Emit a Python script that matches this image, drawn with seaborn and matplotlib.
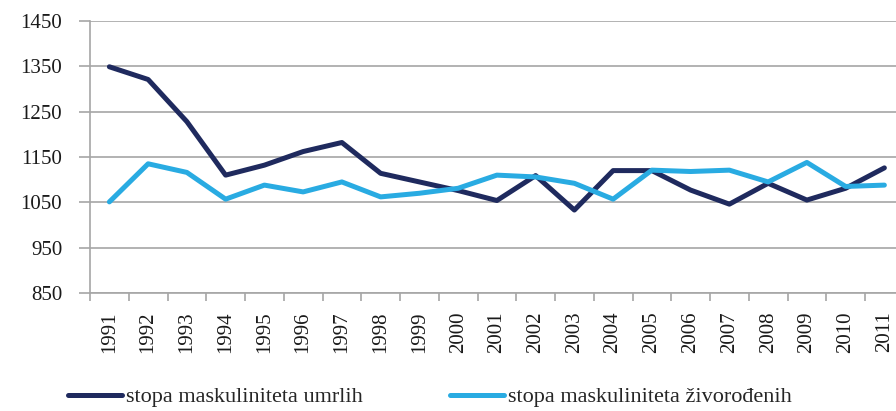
import pandas as pd
import seaborn as sns
import matplotlib.pyplot as plt
from matplotlib.ticker import MultipleLocator

# Data
years = list(range(1991, 2012))
umrlih = [1349, 1321, 1228, 1110, 1132, 1162, 1182, 1114, 1095, 1076, 1054,
          1109, 1033, 1120, 1120, 1077, 1046, 1092, 1055, 1081, 1126]
zivorodjenih = [1051, 1135, 1116, 1057, 1088, 1073, 1095, 1062, 1070, 1081, 1110,
                1106, 1092, 1057, 1121, 1118, 1121, 1095, 1138, 1085, 1088]
series_names = ['stopa maskuliniteta umrlih', 'stopa maskuliniteta živorođenih']
colors = ['#1f2a5e', '#29abe2']
y_ticks = [850, 950, 1050, 1150, 1250, 1350, 1450]

df = pd.DataFrame({'year': years, series_names[0]: umrlih, series_names[1]: zivorodjenih})
df_long = df.melt(id_vars='year', var_name='serija', value_name='vrijednost')

sns.set_theme(style='white')
plt.rcParams['font.family'] = 'serif'
plt.rcParams['font.serif'] = ['Liberation Serif', 'DejaVu Serif']

fig = plt.figure(figsize=(8.96, 4.11), dpi=100)
ax = fig.add_axes([90 / 896, 118 / 411, 813.75 / 896, 272 / 411])

grid_col = '#a6a6a6'
ax.set_ylim(850, 1450)
ax.set_xlim(1990.5, 2011.5)
ax.set_yticks(y_ticks)
ax.yaxis.grid(True, color=grid_col, linewidth=1.2)
ax.set_axisbelow(True)

sns.lineplot(data=df_long, x='year', y='vrijednost', hue='serija', palette=colors,
             linewidth=3.6, ax=ax, legend=False,
             solid_capstyle='round', solid_joinstyle='round')

ax.set_xticks(years)
ax.set_xticklabels([str(y) for y in years], rotation=90)
ax.xaxis.set_minor_locator(MultipleLocator(1, offset=0.5))
ax.tick_params(axis='x', which='major', length=0, pad=13, labelsize=15, colors='#1a1a1a')
ax.tick_params(axis='x', which='minor', length=6, width=1.2, color=grid_col, bottom=True)
ax.tick_params(axis='y', length=8, width=1.2, color=grid_col, pad=12, labelsize=15,
               labelcolor='#1a1a1a', left=True)

for side in ['top', 'right']:
    ax.spines[side].set_visible(False)
for side in ['left', 'bottom']:
    ax.spines[side].set_color(grid_col)
    ax.spines[side].set_linewidth(1.2)

ax.set_xlabel('')
ax.set_ylabel('')

handles = [plt.Line2D([], [], color=c, linewidth=3.6) for c in colors]
fig.legend(handles, series_names, loc='center left', bbox_to_anchor=(68 / 896, 14 / 411),
           ncol=2, frameon=False, fontsize=16, handlelength=2.43, handletextpad=0.2,
           columnspacing=3.9, borderpad=0, borderaxespad=0)

fig.savefig('out.png', dpi=100)
